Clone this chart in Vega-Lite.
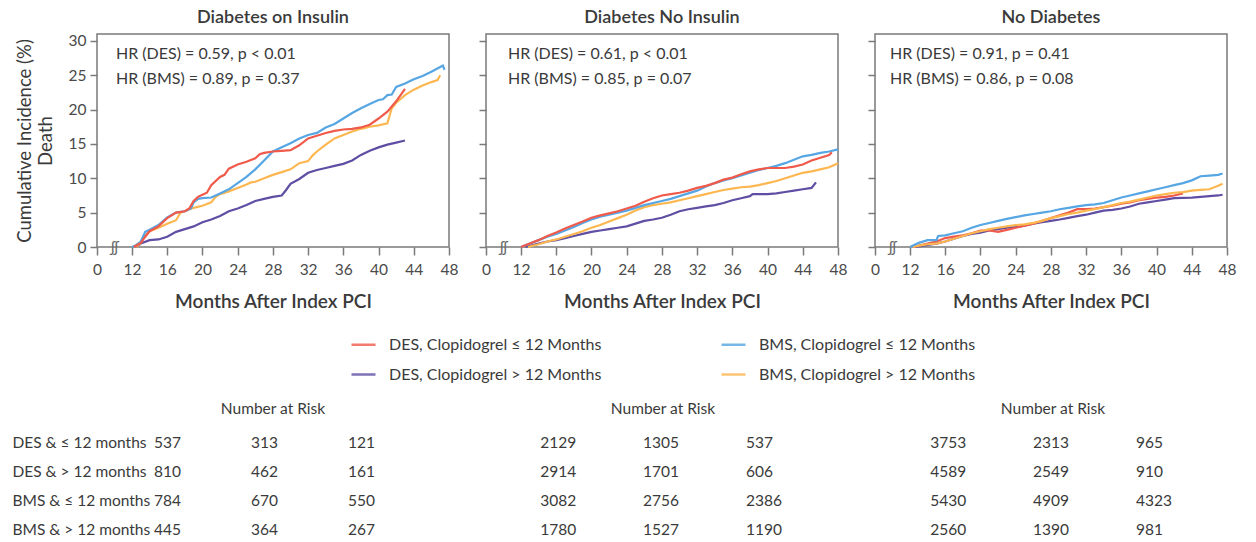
{
"$schema": "https://vega.github.io/schema/vega-lite/v6.json",
"padding": {"left": 12, "top": 8, "right": 4, "bottom": 4},
"background": "white",
"config": {
  "font": "Lato",
  "view": {"stroke": "#7a7a7a", "strokeWidth": 1.5},
  "axis": {"labelFont": "Lato", "labelFontSize": 15.5, "labelColor": "#4a4a4a", "titleFont": "Lato", "titleColor": "#3a3a3a", "domain": false, "tickColor": "#7a7a7a", "tickWidth": 1.5, "grid": false, "labelFlush": false, "labelOverlap": false},
  "title": {"font": "Lato", "fontSize": 18, "fontWeight": 600, "color": "#3a3a3a", "anchor": "middle", "frame": "group"},
  "legend": {"labelFont": "Lato"}
},
"datasets": {
  "curves": [
{"panel":"ins","grp":"DES>","month":12.5,"pct":0},{"panel":"ins","grp":"DES>","month":13,"pct":0.5},{"panel":"ins","grp":"DES>","month":14,"pct":1.0},{"panel":"ins","grp":"DES>","month":15,"pct":1.1},{"panel":"ins","grp":"DES>","month":16,"pct":1.5},{"panel":"ins","grp":"DES>","month":17,"pct":2.2},{"panel":"ins","grp":"DES>","month":18,"pct":2.6},{"panel":"ins","grp":"DES>","month":19,"pct":3.0},{"panel":"ins","grp":"DES>","month":20,"pct":3.6},{"panel":"ins","grp":"DES>","month":21,"pct":4.0},{"panel":"ins","grp":"DES>","month":22,"pct":4.5},{"panel":"ins","grp":"DES>","month":23,"pct":5.2},{"panel":"ins","grp":"DES>","month":24,"pct":5.6},{"panel":"ins","grp":"DES>","month":25,"pct":6.1},{"panel":"ins","grp":"DES>","month":26,"pct":6.7},{"panel":"ins","grp":"DES>","month":27,"pct":7.0},{"panel":"ins","grp":"DES>","month":28,"pct":7.3},{"panel":"ins","grp":"DES>","month":29,"pct":7.5},{"panel":"ins","grp":"DES>","month":29.5,"pct":8.3},{"panel":"ins","grp":"DES>","month":30,"pct":9.2},{"panel":"ins","grp":"DES>","month":31,"pct":9.9},{"panel":"ins","grp":"DES>","month":32,"pct":10.8},{"panel":"ins","grp":"DES>","month":33,"pct":11.2},{"panel":"ins","grp":"DES>","month":34,"pct":11.5},{"panel":"ins","grp":"DES>","month":35,"pct":11.8},{"panel":"ins","grp":"DES>","month":36,"pct":12.1},{"panel":"ins","grp":"DES>","month":37,"pct":12.6},{"panel":"ins","grp":"DES>","month":38,"pct":13.4},{"panel":"ins","grp":"DES>","month":39,"pct":14.0},{"panel":"ins","grp":"DES>","month":40,"pct":14.5},{"panel":"ins","grp":"DES>","month":41,"pct":14.9},{"panel":"ins","grp":"DES>","month":42,"pct":15.2},{"panel":"ins","grp":"DES>","month":43,"pct":15.5},
{"panel":"ins","grp":"BMS>","month":12.5,"pct":0},{"panel":"ins","grp":"BMS>","month":13,"pct":0.6},{"panel":"ins","grp":"BMS>","month":13.5,"pct":1.7},{"panel":"ins","grp":"BMS>","month":14,"pct":2.3},{"panel":"ins","grp":"BMS>","month":15,"pct":2.8},{"panel":"ins","grp":"BMS>","month":16,"pct":3.4},{"panel":"ins","grp":"BMS>","month":17,"pct":3.9},{"panel":"ins","grp":"BMS>","month":17.5,"pct":5.0},{"panel":"ins","grp":"BMS>","month":18,"pct":5.2},{"panel":"ins","grp":"BMS>","month":19,"pct":5.7},{"panel":"ins","grp":"BMS>","month":20,"pct":6.0},{"panel":"ins","grp":"BMS>","month":21,"pct":6.5},{"panel":"ins","grp":"BMS>","month":21.5,"pct":7.3},{"panel":"ins","grp":"BMS>","month":22,"pct":7.7},{"panel":"ins","grp":"BMS>","month":23,"pct":8.1},{"panel":"ins","grp":"BMS>","month":24,"pct":8.6},{"panel":"ins","grp":"BMS>","month":25,"pct":9.1},{"panel":"ins","grp":"BMS>","month":25.5,"pct":9.4},{"panel":"ins","grp":"BMS>","month":26,"pct":9.5},{"panel":"ins","grp":"BMS>","month":27,"pct":10.0},{"panel":"ins","grp":"BMS>","month":28,"pct":10.5},{"panel":"ins","grp":"BMS>","month":29,"pct":10.9},{"panel":"ins","grp":"BMS>","month":30,"pct":11.3},{"panel":"ins","grp":"BMS>","month":31,"pct":12.2},{"panel":"ins","grp":"BMS>","month":32,"pct":12.5},{"panel":"ins","grp":"BMS>","month":32.5,"pct":13.3},{"panel":"ins","grp":"BMS>","month":33,"pct":13.9},{"panel":"ins","grp":"BMS>","month":34,"pct":14.9},{"panel":"ins","grp":"BMS>","month":35,"pct":15.8},{"panel":"ins","grp":"BMS>","month":36,"pct":16.3},{"panel":"ins","grp":"BMS>","month":37,"pct":16.8},{"panel":"ins","grp":"BMS>","month":38,"pct":17.2},{"panel":"ins","grp":"BMS>","month":39,"pct":17.5},{"panel":"ins","grp":"BMS>","month":40,"pct":17.7},{"panel":"ins","grp":"BMS>","month":41,"pct":18.0},{"panel":"ins","grp":"BMS>","month":41.5,"pct":20.2},{"panel":"ins","grp":"BMS>","month":42,"pct":21.0},{"panel":"ins","grp":"BMS>","month":43,"pct":22.1},{"panel":"ins","grp":"BMS>","month":44,"pct":22.9},{"panel":"ins","grp":"BMS>","month":45,"pct":23.5},{"panel":"ins","grp":"BMS>","month":46,"pct":24.0},{"panel":"ins","grp":"BMS>","month":46.7,"pct":24.3},{"panel":"ins","grp":"BMS>","month":47,"pct":25.0},
{"panel":"ins","grp":"BMS≤","month":12,"pct":0},{"panel":"ins","grp":"BMS≤","month":12.5,"pct":0.3},{"panel":"ins","grp":"BMS≤","month":13,"pct":0.8},{"panel":"ins","grp":"BMS≤","month":13.5,"pct":2.2},{"panel":"ins","grp":"BMS≤","month":14,"pct":2.5},{"panel":"ins","grp":"BMS≤","month":15,"pct":3.2},{"panel":"ins","grp":"BMS≤","month":16,"pct":4.3},{"panel":"ins","grp":"BMS≤","month":17,"pct":5.0},{"panel":"ins","grp":"BMS≤","month":18,"pct":5.2},{"panel":"ins","grp":"BMS≤","month":18.7,"pct":5.6},{"panel":"ins","grp":"BMS≤","month":19,"pct":6.5},{"panel":"ins","grp":"BMS≤","month":19.5,"pct":7.0},{"panel":"ins","grp":"BMS≤","month":20,"pct":7.1},{"panel":"ins","grp":"BMS≤","month":21,"pct":7.2},{"panel":"ins","grp":"BMS≤","month":22,"pct":7.8},{"panel":"ins","grp":"BMS≤","month":23,"pct":8.4},{"panel":"ins","grp":"BMS≤","month":24,"pct":9.3},{"panel":"ins","grp":"BMS≤","month":25,"pct":10.2},{"panel":"ins","grp":"BMS≤","month":26,"pct":11.3},{"panel":"ins","grp":"BMS≤","month":27,"pct":12.6},{"panel":"ins","grp":"BMS≤","month":28,"pct":13.9},{"panel":"ins","grp":"BMS≤","month":29,"pct":14.5},{"panel":"ins","grp":"BMS≤","month":30,"pct":15.1},{"panel":"ins","grp":"BMS≤","month":31,"pct":15.8},{"panel":"ins","grp":"BMS≤","month":32,"pct":16.3},{"panel":"ins","grp":"BMS≤","month":33,"pct":16.6},{"panel":"ins","grp":"BMS≤","month":34,"pct":17.4},{"panel":"ins","grp":"BMS≤","month":35,"pct":17.9},{"panel":"ins","grp":"BMS≤","month":36,"pct":18.7},{"panel":"ins","grp":"BMS≤","month":37,"pct":19.5},{"panel":"ins","grp":"BMS≤","month":38,"pct":20.2},{"panel":"ins","grp":"BMS≤","month":39,"pct":20.8},{"panel":"ins","grp":"BMS≤","month":40,"pct":21.4},{"panel":"ins","grp":"BMS≤","month":40.5,"pct":21.5},{"panel":"ins","grp":"BMS≤","month":41,"pct":22.1},{"panel":"ins","grp":"BMS≤","month":41.5,"pct":22.2},{"panel":"ins","grp":"BMS≤","month":42,"pct":23.3},{"panel":"ins","grp":"BMS≤","month":43,"pct":23.8},{"panel":"ins","grp":"BMS≤","month":44,"pct":24.4},{"panel":"ins","grp":"BMS≤","month":45,"pct":24.9},{"panel":"ins","grp":"BMS≤","month":46,"pct":25.5},{"panel":"ins","grp":"BMS≤","month":47,"pct":26.2},{"panel":"ins","grp":"BMS≤","month":47.3,"pct":26.4},{"panel":"ins","grp":"BMS≤","month":47.5,"pct":25.8},
{"panel":"ins","grp":"DES≤","month":12.2,"pct":0},{"panel":"ins","grp":"DES≤","month":13,"pct":0.6},{"panel":"ins","grp":"DES≤","month":13.5,"pct":1.5},{"panel":"ins","grp":"DES≤","month":14,"pct":2.3},{"panel":"ins","grp":"DES≤","month":15,"pct":3.0},{"panel":"ins","grp":"DES≤","month":16,"pct":4.2},{"panel":"ins","grp":"DES≤","month":17,"pct":5.0},{"panel":"ins","grp":"DES≤","month":18,"pct":5.2},{"panel":"ins","grp":"DES≤","month":18.5,"pct":5.6},{"panel":"ins","grp":"DES≤","month":19,"pct":6.7},{"panel":"ins","grp":"DES≤","month":19.5,"pct":7.3},{"panel":"ins","grp":"DES≤","month":20,"pct":7.6},{"panel":"ins","grp":"DES≤","month":20.5,"pct":7.9},{"panel":"ins","grp":"DES≤","month":21,"pct":9.0},{"panel":"ins","grp":"DES≤","month":22,"pct":10.2},{"panel":"ins","grp":"DES≤","month":22.5,"pct":10.5},{"panel":"ins","grp":"DES≤","month":23,"pct":11.4},{"panel":"ins","grp":"DES≤","month":24,"pct":12.0},{"panel":"ins","grp":"DES≤","month":25,"pct":12.4},{"panel":"ins","grp":"DES≤","month":26,"pct":12.9},{"panel":"ins","grp":"DES≤","month":26.5,"pct":13.5},{"panel":"ins","grp":"DES≤","month":27,"pct":13.7},{"panel":"ins","grp":"DES≤","month":28,"pct":13.9},{"panel":"ins","grp":"DES≤","month":29,"pct":14.0},{"panel":"ins","grp":"DES≤","month":30,"pct":14.1},{"panel":"ins","grp":"DES≤","month":31,"pct":14.8},{"panel":"ins","grp":"DES≤","month":32,"pct":15.8},{"panel":"ins","grp":"DES≤","month":33,"pct":16.2},{"panel":"ins","grp":"DES≤","month":34,"pct":16.6},{"panel":"ins","grp":"DES≤","month":35,"pct":16.9},{"panel":"ins","grp":"DES≤","month":36,"pct":17.1},{"panel":"ins","grp":"DES≤","month":37,"pct":17.2},{"panel":"ins","grp":"DES≤","month":38,"pct":17.4},{"panel":"ins","grp":"DES≤","month":39,"pct":17.8},{"panel":"ins","grp":"DES≤","month":40,"pct":18.7},{"panel":"ins","grp":"DES≤","month":41,"pct":19.7},{"panel":"ins","grp":"DES≤","month":42,"pct":21.2},{"panel":"ins","grp":"DES≤","month":43,"pct":23.0},
{"panel":"non","grp":"DES>","month":12.5,"pct":0},{"panel":"non","grp":"DES>","month":14,"pct":0.5},{"panel":"non","grp":"DES>","month":15,"pct":0.8},{"panel":"non","grp":"DES>","month":16,"pct":1.0},{"panel":"non","grp":"DES>","month":17,"pct":1.3},{"panel":"non","grp":"DES>","month":18,"pct":1.6},{"panel":"non","grp":"DES>","month":19,"pct":1.9},{"panel":"non","grp":"DES>","month":20,"pct":2.2},{"panel":"non","grp":"DES>","month":21,"pct":2.4},{"panel":"non","grp":"DES>","month":22,"pct":2.6},{"panel":"non","grp":"DES>","month":23,"pct":2.8},{"panel":"non","grp":"DES>","month":24,"pct":3.0},{"panel":"non","grp":"DES>","month":25,"pct":3.4},{"panel":"non","grp":"DES>","month":26,"pct":3.8},{"panel":"non","grp":"DES>","month":27,"pct":4.0},{"panel":"non","grp":"DES>","month":28,"pct":4.25},{"panel":"non","grp":"DES>","month":29,"pct":4.7},{"panel":"non","grp":"DES>","month":30,"pct":5.2},{"panel":"non","grp":"DES>","month":31,"pct":5.5},{"panel":"non","grp":"DES>","month":32,"pct":5.7},{"panel":"non","grp":"DES>","month":33,"pct":5.9},{"panel":"non","grp":"DES>","month":34,"pct":6.1},{"panel":"non","grp":"DES>","month":35,"pct":6.4},{"panel":"non","grp":"DES>","month":36,"pct":6.8},{"panel":"non","grp":"DES>","month":37,"pct":7.1},{"panel":"non","grp":"DES>","month":38,"pct":7.4},{"panel":"non","grp":"DES>","month":38.3,"pct":7.7},{"panel":"non","grp":"DES>","month":39,"pct":7.7},{"panel":"non","grp":"DES>","month":40,"pct":7.7},{"panel":"non","grp":"DES>","month":41,"pct":7.8},{"panel":"non","grp":"DES>","month":42,"pct":8.0},{"panel":"non","grp":"DES>","month":43,"pct":8.2},{"panel":"non","grp":"DES>","month":44,"pct":8.4},{"panel":"non","grp":"DES>","month":45,"pct":8.6},{"panel":"non","grp":"DES>","month":45.5,"pct":9.4},
{"panel":"non","grp":"BMS>","month":12.8,"pct":0},{"panel":"non","grp":"BMS>","month":14,"pct":0.4},{"panel":"non","grp":"BMS>","month":15,"pct":0.8},{"panel":"non","grp":"BMS>","month":16,"pct":1.1},{"panel":"non","grp":"BMS>","month":17,"pct":1.5},{"panel":"non","grp":"BMS>","month":18,"pct":1.9},{"panel":"non","grp":"BMS>","month":19,"pct":2.3},{"panel":"non","grp":"BMS>","month":20,"pct":2.8},{"panel":"non","grp":"BMS>","month":21,"pct":3.2},{"panel":"non","grp":"BMS>","month":22,"pct":3.7},{"panel":"non","grp":"BMS>","month":23,"pct":4.2},{"panel":"non","grp":"BMS>","month":24,"pct":4.7},{"panel":"non","grp":"BMS>","month":25,"pct":5.3},{"panel":"non","grp":"BMS>","month":26,"pct":5.8},{"panel":"non","grp":"BMS>","month":27,"pct":6.1},{"panel":"non","grp":"BMS>","month":28,"pct":6.3},{"panel":"non","grp":"BMS>","month":29,"pct":6.5},{"panel":"non","grp":"BMS>","month":30,"pct":6.8},{"panel":"non","grp":"BMS>","month":31,"pct":7.1},{"panel":"non","grp":"BMS>","month":32,"pct":7.4},{"panel":"non","grp":"BMS>","month":33,"pct":7.7},{"panel":"non","grp":"BMS>","month":34,"pct":8.0},{"panel":"non","grp":"BMS>","month":35,"pct":8.3},{"panel":"non","grp":"BMS>","month":36,"pct":8.5},{"panel":"non","grp":"BMS>","month":37,"pct":8.7},{"panel":"non","grp":"BMS>","month":38,"pct":8.8},{"panel":"non","grp":"BMS>","month":39,"pct":9.0},{"panel":"non","grp":"BMS>","month":40,"pct":9.3},{"panel":"non","grp":"BMS>","month":41,"pct":9.6},{"panel":"non","grp":"BMS>","month":42,"pct":10.0},{"panel":"non","grp":"BMS>","month":43,"pct":10.4},{"panel":"non","grp":"BMS>","month":44,"pct":10.8},{"panel":"non","grp":"BMS>","month":45,"pct":11.0},{"panel":"non","grp":"BMS>","month":46,"pct":11.3},{"panel":"non","grp":"BMS>","month":47,"pct":11.6},{"panel":"non","grp":"BMS>","month":48,"pct":12.2},
{"panel":"non","grp":"BMS≤","month":12,"pct":0},{"panel":"non","grp":"BMS≤","month":13,"pct":0.5},{"panel":"non","grp":"BMS≤","month":14,"pct":1.0},{"panel":"non","grp":"BMS≤","month":15,"pct":1.5},{"panel":"non","grp":"BMS≤","month":16,"pct":1.9},{"panel":"non","grp":"BMS≤","month":17,"pct":2.4},{"panel":"non","grp":"BMS≤","month":18,"pct":2.9},{"panel":"non","grp":"BMS≤","month":19,"pct":3.5},{"panel":"non","grp":"BMS≤","month":20,"pct":4.0},{"panel":"non","grp":"BMS≤","month":21,"pct":4.4},{"panel":"non","grp":"BMS≤","month":22,"pct":4.7},{"panel":"non","grp":"BMS≤","month":23,"pct":5.0},{"panel":"non","grp":"BMS≤","month":24,"pct":5.3},{"panel":"non","grp":"BMS≤","month":25,"pct":5.7},{"panel":"non","grp":"BMS≤","month":26,"pct":6.1},{"panel":"non","grp":"BMS≤","month":27,"pct":6.4},{"panel":"non","grp":"BMS≤","month":28,"pct":6.7},{"panel":"non","grp":"BMS≤","month":29,"pct":7.0},{"panel":"non","grp":"BMS≤","month":30,"pct":7.4},{"panel":"non","grp":"BMS≤","month":31,"pct":7.8},{"panel":"non","grp":"BMS≤","month":32,"pct":8.2},{"panel":"non","grp":"BMS≤","month":33,"pct":8.8},{"panel":"non","grp":"BMS≤","month":34,"pct":9.3},{"panel":"non","grp":"BMS≤","month":35,"pct":9.7},{"panel":"non","grp":"BMS≤","month":36,"pct":10.0},{"panel":"non","grp":"BMS≤","month":37,"pct":10.4},{"panel":"non","grp":"BMS≤","month":38,"pct":10.8},{"panel":"non","grp":"BMS≤","month":39,"pct":11.2},{"panel":"non","grp":"BMS≤","month":40,"pct":11.5},{"panel":"non","grp":"BMS≤","month":41,"pct":11.8},{"panel":"non","grp":"BMS≤","month":42,"pct":12.2},{"panel":"non","grp":"BMS≤","month":43,"pct":12.7},{"panel":"non","grp":"BMS≤","month":44,"pct":13.2},{"panel":"non","grp":"BMS≤","month":45,"pct":13.4},{"panel":"non","grp":"BMS≤","month":46,"pct":13.7},{"panel":"non","grp":"BMS≤","month":47,"pct":13.9},{"panel":"non","grp":"BMS≤","month":48,"pct":14.2},
{"panel":"non","grp":"DES≤","month":12,"pct":0},{"panel":"non","grp":"DES≤","month":13,"pct":0.5},{"panel":"non","grp":"DES≤","month":14,"pct":1.0},{"panel":"non","grp":"DES≤","month":15,"pct":1.6},{"panel":"non","grp":"DES≤","month":16,"pct":2.1},{"panel":"non","grp":"DES≤","month":17,"pct":2.7},{"panel":"non","grp":"DES≤","month":18,"pct":3.2},{"panel":"non","grp":"DES≤","month":19,"pct":3.7},{"panel":"non","grp":"DES≤","month":20,"pct":4.25},{"panel":"non","grp":"DES≤","month":21,"pct":4.6},{"panel":"non","grp":"DES≤","month":22,"pct":4.9},{"panel":"non","grp":"DES≤","month":23,"pct":5.2},{"panel":"non","grp":"DES≤","month":24,"pct":5.6},{"panel":"non","grp":"DES≤","month":25,"pct":6.0},{"panel":"non","grp":"DES≤","month":26,"pct":6.6},{"panel":"non","grp":"DES≤","month":27,"pct":7.1},{"panel":"non","grp":"DES≤","month":28,"pct":7.5},{"panel":"non","grp":"DES≤","month":29,"pct":7.7},{"panel":"non","grp":"DES≤","month":30,"pct":7.9},{"panel":"non","grp":"DES≤","month":31,"pct":8.2},{"panel":"non","grp":"DES≤","month":32,"pct":8.6},{"panel":"non","grp":"DES≤","month":33,"pct":8.9},{"panel":"non","grp":"DES≤","month":34,"pct":9.3},{"panel":"non","grp":"DES≤","month":35,"pct":9.8},{"panel":"non","grp":"DES≤","month":36,"pct":10.1},{"panel":"non","grp":"DES≤","month":37,"pct":10.6},{"panel":"non","grp":"DES≤","month":38,"pct":11.0},{"panel":"non","grp":"DES≤","month":39,"pct":11.3},{"panel":"non","grp":"DES≤","month":40,"pct":11.5},{"panel":"non","grp":"DES≤","month":41,"pct":11.5},{"panel":"non","grp":"DES≤","month":42,"pct":11.5},{"panel":"non","grp":"DES≤","month":43,"pct":11.7},{"panel":"non","grp":"DES≤","month":44,"pct":12.0},{"panel":"non","grp":"DES≤","month":45,"pct":12.6},{"panel":"non","grp":"DES≤","month":46,"pct":13.0},{"panel":"non","grp":"DES≤","month":47,"pct":13.4},{"panel":"non","grp":"DES≤","month":47.3,"pct":13.8},
{"panel":"nod","grp":"DES>","month":12.5,"pct":0},{"panel":"nod","grp":"DES>","month":13,"pct":0.1},{"panel":"nod","grp":"DES>","month":14,"pct":0.3},{"panel":"nod","grp":"DES>","month":15,"pct":0.5},{"panel":"nod","grp":"DES>","month":16,"pct":0.8},{"panel":"nod","grp":"DES>","month":17,"pct":1.2},{"panel":"nod","grp":"DES>","month":18,"pct":1.6},{"panel":"nod","grp":"DES>","month":19,"pct":1.9},{"panel":"nod","grp":"DES>","month":20,"pct":2.1},{"panel":"nod","grp":"DES>","month":21,"pct":2.4},{"panel":"nod","grp":"DES>","month":22,"pct":2.6},{"panel":"nod","grp":"DES>","month":23,"pct":2.8},{"panel":"nod","grp":"DES>","month":24,"pct":2.9},{"panel":"nod","grp":"DES>","month":25,"pct":3.1},{"panel":"nod","grp":"DES>","month":26,"pct":3.4},{"panel":"nod","grp":"DES>","month":27,"pct":3.6},{"panel":"nod","grp":"DES>","month":28,"pct":3.8},{"panel":"nod","grp":"DES>","month":29,"pct":4.0},{"panel":"nod","grp":"DES>","month":30,"pct":4.25},{"panel":"nod","grp":"DES>","month":31,"pct":4.5},{"panel":"nod","grp":"DES>","month":32,"pct":4.7},{"panel":"nod","grp":"DES>","month":33,"pct":5.0},{"panel":"nod","grp":"DES>","month":34,"pct":5.3},{"panel":"nod","grp":"DES>","month":35,"pct":5.4},{"panel":"nod","grp":"DES>","month":36,"pct":5.6},{"panel":"nod","grp":"DES>","month":37,"pct":5.9},{"panel":"nod","grp":"DES>","month":38,"pct":6.3},{"panel":"nod","grp":"DES>","month":39,"pct":6.5},{"panel":"nod","grp":"DES>","month":40,"pct":6.7},{"panel":"nod","grp":"DES>","month":41,"pct":6.9},{"panel":"nod","grp":"DES>","month":42,"pct":7.1},{"panel":"nod","grp":"DES>","month":43,"pct":7.15},{"panel":"nod","grp":"DES>","month":44,"pct":7.2},{"panel":"nod","grp":"DES>","month":45,"pct":7.3},{"panel":"nod","grp":"DES>","month":46,"pct":7.4},{"panel":"nod","grp":"DES>","month":47,"pct":7.5},{"panel":"nod","grp":"DES>","month":47.5,"pct":7.6},
{"panel":"nod","grp":"DES≤","month":12.3,"pct":0},{"panel":"nod","grp":"DES≤","month":13,"pct":0.2},{"panel":"nod","grp":"DES≤","month":14,"pct":0.5},{"panel":"nod","grp":"DES≤","month":15,"pct":0.8},{"panel":"nod","grp":"DES≤","month":16,"pct":1.3},{"panel":"nod","grp":"DES≤","month":17,"pct":1.5},{"panel":"nod","grp":"DES≤","month":18,"pct":1.7},{"panel":"nod","grp":"DES≤","month":19,"pct":2.0},{"panel":"nod","grp":"DES≤","month":20,"pct":2.4},{"panel":"nod","grp":"DES≤","month":21,"pct":2.4},{"panel":"nod","grp":"DES≤","month":22,"pct":2.2},{"panel":"nod","grp":"DES≤","month":23,"pct":2.5},{"panel":"nod","grp":"DES≤","month":24,"pct":2.8},{"panel":"nod","grp":"DES≤","month":25,"pct":3.1},{"panel":"nod","grp":"DES≤","month":26,"pct":3.4},{"panel":"nod","grp":"DES≤","month":27,"pct":3.8},{"panel":"nod","grp":"DES≤","month":28,"pct":4.2},{"panel":"nod","grp":"DES≤","month":29,"pct":4.6},{"panel":"nod","grp":"DES≤","month":30,"pct":5.0},{"panel":"nod","grp":"DES≤","month":31,"pct":5.5},{"panel":"nod","grp":"DES≤","month":32,"pct":5.5},{"panel":"nod","grp":"DES≤","month":33,"pct":5.6},{"panel":"nod","grp":"DES≤","month":34,"pct":5.8},{"panel":"nod","grp":"DES≤","month":35,"pct":6.0},{"panel":"nod","grp":"DES≤","month":36,"pct":6.3},{"panel":"nod","grp":"DES≤","month":37,"pct":6.5},{"panel":"nod","grp":"DES≤","month":38,"pct":6.8},{"panel":"nod","grp":"DES≤","month":39,"pct":7.0},{"panel":"nod","grp":"DES≤","month":40,"pct":7.2},{"panel":"nod","grp":"DES≤","month":41,"pct":7.3},{"panel":"nod","grp":"DES≤","month":42,"pct":7.5},{"panel":"nod","grp":"DES≤","month":43,"pct":7.8},
{"panel":"nod","grp":"BMS>","month":12.3,"pct":0},{"panel":"nod","grp":"BMS>","month":13,"pct":0.2},{"panel":"nod","grp":"BMS>","month":14,"pct":0.4},{"panel":"nod","grp":"BMS>","month":15,"pct":0.5},{"panel":"nod","grp":"BMS>","month":16,"pct":0.8},{"panel":"nod","grp":"BMS>","month":17,"pct":1.2},{"panel":"nod","grp":"BMS>","month":18,"pct":1.6},{"panel":"nod","grp":"BMS>","month":19,"pct":2.0},{"panel":"nod","grp":"BMS>","month":20,"pct":2.3},{"panel":"nod","grp":"BMS>","month":21,"pct":2.6},{"panel":"nod","grp":"BMS>","month":22,"pct":2.8},{"panel":"nod","grp":"BMS>","month":23,"pct":3.0},{"panel":"nod","grp":"BMS>","month":24,"pct":3.2},{"panel":"nod","grp":"BMS>","month":25,"pct":3.3},{"panel":"nod","grp":"BMS>","month":26,"pct":3.5},{"panel":"nod","grp":"BMS>","month":27,"pct":3.8},{"panel":"nod","grp":"BMS>","month":28,"pct":4.2},{"panel":"nod","grp":"BMS>","month":29,"pct":4.5},{"panel":"nod","grp":"BMS>","month":30,"pct":4.8},{"panel":"nod","grp":"BMS>","month":31,"pct":5.0},{"panel":"nod","grp":"BMS>","month":32,"pct":5.3},{"panel":"nod","grp":"BMS>","month":33,"pct":5.5},{"panel":"nod","grp":"BMS>","month":34,"pct":5.8},{"panel":"nod","grp":"BMS>","month":35,"pct":6.1},{"panel":"nod","grp":"BMS>","month":36,"pct":6.4},{"panel":"nod","grp":"BMS>","month":37,"pct":6.6},{"panel":"nod","grp":"BMS>","month":38,"pct":6.9},{"panel":"nod","grp":"BMS>","month":39,"pct":7.2},{"panel":"nod","grp":"BMS>","month":40,"pct":7.5},{"panel":"nod","grp":"BMS>","month":41,"pct":7.7},{"panel":"nod","grp":"BMS>","month":42,"pct":7.9},{"panel":"nod","grp":"BMS>","month":43,"pct":8.0},{"panel":"nod","grp":"BMS>","month":44,"pct":8.2},{"panel":"nod","grp":"BMS>","month":45,"pct":8.3},{"panel":"nod","grp":"BMS>","month":46,"pct":8.4},{"panel":"nod","grp":"BMS>","month":47,"pct":8.9},{"panel":"nod","grp":"BMS>","month":47.5,"pct":9.2},
{"panel":"nod","grp":"BMS≤","month":12,"pct":0},{"panel":"nod","grp":"BMS≤","month":13,"pct":0.6},{"panel":"nod","grp":"BMS≤","month":14,"pct":1.0},{"panel":"nod","grp":"BMS≤","month":15,"pct":1.0},{"panel":"nod","grp":"BMS≤","month":15.2,"pct":1.6},{"panel":"nod","grp":"BMS≤","month":16,"pct":1.7},{"panel":"nod","grp":"BMS≤","month":17,"pct":2.0},{"panel":"nod","grp":"BMS≤","month":18,"pct":2.3},{"panel":"nod","grp":"BMS≤","month":19,"pct":2.8},{"panel":"nod","grp":"BMS≤","month":20,"pct":3.2},{"panel":"nod","grp":"BMS≤","month":21,"pct":3.5},{"panel":"nod","grp":"BMS≤","month":22,"pct":3.8},{"panel":"nod","grp":"BMS≤","month":23,"pct":4.1},{"panel":"nod","grp":"BMS≤","month":24,"pct":4.35},{"panel":"nod","grp":"BMS≤","month":25,"pct":4.6},{"panel":"nod","grp":"BMS≤","month":26,"pct":4.8},{"panel":"nod","grp":"BMS≤","month":27,"pct":5.0},{"panel":"nod","grp":"BMS≤","month":28,"pct":5.2},{"panel":"nod","grp":"BMS≤","month":29,"pct":5.5},{"panel":"nod","grp":"BMS≤","month":30,"pct":5.7},{"panel":"nod","grp":"BMS≤","month":31,"pct":5.9},{"panel":"nod","grp":"BMS≤","month":32,"pct":6.1},{"panel":"nod","grp":"BMS≤","month":33,"pct":6.2},{"panel":"nod","grp":"BMS≤","month":34,"pct":6.4},{"panel":"nod","grp":"BMS≤","month":35,"pct":6.8},{"panel":"nod","grp":"BMS≤","month":36,"pct":7.2},{"panel":"nod","grp":"BMS≤","month":37,"pct":7.5},{"panel":"nod","grp":"BMS≤","month":38,"pct":7.8},{"panel":"nod","grp":"BMS≤","month":39,"pct":8.1},{"panel":"nod","grp":"BMS≤","month":40,"pct":8.4},{"panel":"nod","grp":"BMS≤","month":41,"pct":8.7},{"panel":"nod","grp":"BMS≤","month":42,"pct":9.0},{"panel":"nod","grp":"BMS≤","month":43,"pct":9.3},{"panel":"nod","grp":"BMS≤","month":44,"pct":9.7},{"panel":"nod","grp":"BMS≤","month":45,"pct":10.3},{"panel":"nod","grp":"BMS≤","month":46,"pct":10.4},{"panel":"nod","grp":"BMS≤","month":47,"pct":10.5},{"panel":"nod","grp":"BMS≤","month":47.5,"pct":10.7}
  ],
  "hr": [
    {"panel":"ins","text":"HR (DES) = 0.59, p < 0.01\nHR (BMS) = 0.89, p = 0.37"},
    {"panel":"non","text":"HR (DES) = 0.61, p < 0.01\nHR (BMS) = 0.85, p = 0.07"},
    {"panel":"nod","text":"HR (DES) = 0.91, p = 0.41\nHR (BMS) = 0.86, p = 0.08"}
  ],
  "risk": [
    {"panel":"ins","grp":"DES & ≤ 12 months","month":12,"n":537},{"panel":"ins","grp":"DES & ≤ 12 months","month":24,"n":313},{"panel":"ins","grp":"DES & ≤ 12 months","month":36,"n":121},
    {"panel":"ins","grp":"DES & > 12 months","month":12,"n":810},{"panel":"ins","grp":"DES & > 12 months","month":24,"n":462},{"panel":"ins","grp":"DES & > 12 months","month":36,"n":161},
    {"panel":"ins","grp":"BMS & ≤ 12 months","month":12,"n":784},{"panel":"ins","grp":"BMS & ≤ 12 months","month":24,"n":670},{"panel":"ins","grp":"BMS & ≤ 12 months","month":36,"n":550},
    {"panel":"ins","grp":"BMS & > 12 months","month":12,"n":445},{"panel":"ins","grp":"BMS & > 12 months","month":24,"n":364},{"panel":"ins","grp":"BMS & > 12 months","month":36,"n":267},
    {"panel":"non","grp":"DES & ≤ 12 months","month":12,"n":2129},{"panel":"non","grp":"DES & ≤ 12 months","month":24,"n":1305},{"panel":"non","grp":"DES & ≤ 12 months","month":36,"n":537},
    {"panel":"non","grp":"DES & > 12 months","month":12,"n":2914},{"panel":"non","grp":"DES & > 12 months","month":24,"n":1701},{"panel":"non","grp":"DES & > 12 months","month":36,"n":606},
    {"panel":"non","grp":"BMS & ≤ 12 months","month":12,"n":3082},{"panel":"non","grp":"BMS & ≤ 12 months","month":24,"n":2756},{"panel":"non","grp":"BMS & ≤ 12 months","month":36,"n":2386},
    {"panel":"non","grp":"BMS & > 12 months","month":12,"n":1780},{"panel":"non","grp":"BMS & > 12 months","month":24,"n":1527},{"panel":"non","grp":"BMS & > 12 months","month":36,"n":1190},
    {"panel":"nod","grp":"DES & ≤ 12 months","month":12,"n":3753},{"panel":"nod","grp":"DES & ≤ 12 months","month":24,"n":2313},{"panel":"nod","grp":"DES & ≤ 12 months","month":36,"n":965},
    {"panel":"nod","grp":"DES & > 12 months","month":12,"n":4589},{"panel":"nod","grp":"DES & > 12 months","month":24,"n":2549},{"panel":"nod","grp":"DES & > 12 months","month":36,"n":910},
    {"panel":"nod","grp":"BMS & ≤ 12 months","month":12,"n":5430},{"panel":"nod","grp":"BMS & ≤ 12 months","month":24,"n":4909},{"panel":"nod","grp":"BMS & ≤ 12 months","month":36,"n":4323},
    {"panel":"nod","grp":"BMS & > 12 months","month":12,"n":2560},{"panel":"nod","grp":"BMS & > 12 months","month":24,"n":1390},{"panel":"nod","grp":"BMS & > 12 months","month":36,"n":981}
  ]
},
"spacing": 88,
"vconcat": [
 {"spacing": 18, "hconcat": [
  {"width": 352, "height": 213, "title": {"text": "Diabetes on Insulin", "offset": 7},
   "resolve": {"axis": {"x": "independent", "y": "independent"}},
   "layer": [
    {"data": {"name": "curves"}, "transform": [{"filter": "datum.panel == 'ins'"}],
     "mark": {"type": "line", "strokeWidth": 2.2},
     "encoding": {
      "x": {"field": "month", "type": "quantitative", "scale": {"domain": [0, 12, 48], "range": [0, 35, 352], "nice": false, "zero": false}, "axis": {"values": [0,12,16,20,24,28,32,36,40,44,48], "labelOverlap": false, "tickSize": 8, "labelPadding": 7, "title": "Months After Index PCI", "titleFontSize": 19, "titleFontWeight": 600, "titlePadding": 15}},
      "y": {"field": "pct", "type": "quantitative", "scale": {"domain": [0, 31], "nice": false}, "axis": {"values": [0,5,10,15,20,25,30], "labelOverlap": false, "tickSize": 7, "labelPadding": 4, "title": ["Cumulative Incidence (%)", "Death"], "titleFontSize": 18.5, "titleFontWeight": "normal", "titleLineHeight": 21, "titlePadding": 13}},
      "color": {"field": "grp", "type": "nominal", "scale": {"domain": ["DES≤", "DES>", "BMS≤", "BMS>"], "range": ["#f05a4b", "#5f4ea3", "#56a6e3", "#fdb750"]},
        "legend": {"orient": "none", "legendX": 253, "legendY": 297, "columns": 2, "title": null, "padding": 0, "symbolType": "stroke", "symbolSize": 576, "symbolStrokeWidth": 2.5, "symbolOpacity": 0.8, "labelFontSize": 16, "labelColor": "#3a3a3a", "labelOffset": 12, "columnPadding": 114, "rowPadding": 8, "labelLimit": 300,
          "labelExpr": "datum.label == 'DES≤' ? 'DES, Clopidogrel ≤ 12 Months' : datum.label == 'DES>' ? 'DES, Clopidogrel > 12 Months' : datum.label == 'BMS≤' ? 'BMS, Clopidogrel ≤ 12 Months' : 'BMS, Clopidogrel > 12 Months'"}}
     }},
    {"data": {"name": "hr"}, "transform": [{"filter": "datum.panel == 'ins'"}],
     "mark": {"type": "text", "align": "left", "baseline": "top", "lineBreak": "\n", "lineHeight": 25, "dx": 19, "dy": 12, "fontSize": 16, "color": "#3a3a3a"},
     "encoding": {"x": {"datum": 0, "type": "quantitative", "axis": null}, "y": {"datum": 31, "type": "quantitative", "axis": null}, "text": {"field": "text"}}},
    {"data": {"values": [{}]},
     "mark": {"type": "text", "text": "ʃʃ", "fontSize": 15, "color": "#666"},
     "encoding": {"x": {"datum": 6, "type": "quantitative", "axis": null}, "y": {"datum": 0, "type": "quantitative", "axis": null}}}
   ]},
  {"width": 352, "height": 213, "title": {"text": "Diabetes No Insulin", "offset": 7},
   "resolve": {"axis": {"x": "independent", "y": "independent"}},
   "layer": [
    {"data": {"name": "curves"}, "transform": [{"filter": "datum.panel == 'non'"}],
     "mark": {"type": "line", "strokeWidth": 2.2},
     "encoding": {
      "x": {"field": "month", "type": "quantitative", "scale": {"domain": [0, 12, 48], "range": [0, 35, 352], "nice": false, "zero": false}, "axis": {"values": [0,12,16,20,24,28,32,36,40,44,48], "labelOverlap": false, "tickSize": 8, "labelPadding": 7, "title": "Months After Index PCI", "titleFontSize": 19, "titleFontWeight": 600, "titlePadding": 15}},
      "y": {"field": "pct", "type": "quantitative", "scale": {"domain": [0, 31], "nice": false}, "axis": {"values": [0,5,10,15,20,25,30], "tickSize": 7, "labels": false, "title": null}},
      "color": {"field": "grp", "type": "nominal", "scale": {"domain": ["DES≤", "DES>", "BMS≤", "BMS>"], "range": ["#f05a4b", "#5f4ea3", "#56a6e3", "#fdb750"]},
        "legend": {"orient": "none", "legendX": 253, "legendY": 297, "columns": 2, "title": null, "padding": 0, "symbolType": "stroke", "symbolSize": 576, "symbolStrokeWidth": 2.5, "symbolOpacity": 0.8, "labelFontSize": 16, "labelColor": "#3a3a3a", "labelOffset": 12, "columnPadding": 114, "rowPadding": 8, "labelLimit": 300,
          "labelExpr": "datum.label == 'DES≤' ? 'DES, Clopidogrel ≤ 12 Months' : datum.label == 'DES>' ? 'DES, Clopidogrel > 12 Months' : datum.label == 'BMS≤' ? 'BMS, Clopidogrel ≤ 12 Months' : 'BMS, Clopidogrel > 12 Months'"}}
     }},
    {"data": {"name": "hr"}, "transform": [{"filter": "datum.panel == 'non'"}],
     "mark": {"type": "text", "align": "left", "baseline": "top", "lineBreak": "\n", "lineHeight": 25, "dx": 22, "dy": 12, "fontSize": 16, "color": "#3a3a3a"},
     "encoding": {"x": {"datum": 0, "type": "quantitative", "axis": null}, "y": {"datum": 31, "type": "quantitative", "axis": null}, "text": {"field": "text"}}},
    {"data": {"values": [{}]},
     "mark": {"type": "text", "text": "ʃʃ", "fontSize": 15, "color": "#666"},
     "encoding": {"x": {"datum": 6, "type": "quantitative", "axis": null}, "y": {"datum": 0, "type": "quantitative", "axis": null}}}
   ]},
  {"width": 352, "height": 213, "title": {"text": "No Diabetes", "offset": 7},
   "resolve": {"axis": {"x": "independent", "y": "independent"}},
   "layer": [
    {"data": {"name": "curves"}, "transform": [{"filter": "datum.panel == 'nod'"}],
     "mark": {"type": "line", "strokeWidth": 2.2},
     "encoding": {
      "x": {"field": "month", "type": "quantitative", "scale": {"domain": [0, 12, 48], "range": [0, 35, 352], "nice": false, "zero": false}, "axis": {"values": [0,12,16,20,24,28,32,36,40,44,48], "labelOverlap": false, "tickSize": 8, "labelPadding": 7, "title": "Months After Index PCI", "titleFontSize": 19, "titleFontWeight": 600, "titlePadding": 15}},
      "y": {"field": "pct", "type": "quantitative", "scale": {"domain": [0, 31], "nice": false}, "axis": {"values": [0,5,10,15,20,25,30], "tickSize": 7, "labels": false, "title": null}},
      "color": {"field": "grp", "type": "nominal", "scale": {"domain": ["DES≤", "DES>", "BMS≤", "BMS>"], "range": ["#f05a4b", "#5f4ea3", "#56a6e3", "#fdb750"]},
        "legend": {"orient": "none", "legendX": 253, "legendY": 297, "columns": 2, "title": null, "padding": 0, "symbolType": "stroke", "symbolSize": 576, "symbolStrokeWidth": 2.5, "symbolOpacity": 0.8, "labelFontSize": 16, "labelColor": "#3a3a3a", "labelOffset": 12, "columnPadding": 114, "rowPadding": 8, "labelLimit": 300,
          "labelExpr": "datum.label == 'DES≤' ? 'DES, Clopidogrel ≤ 12 Months' : datum.label == 'DES>' ? 'DES, Clopidogrel > 12 Months' : datum.label == 'BMS≤' ? 'BMS, Clopidogrel ≤ 12 Months' : 'BMS, Clopidogrel > 12 Months'"}}
     }},
    {"data": {"name": "hr"}, "transform": [{"filter": "datum.panel == 'nod'"}],
     "mark": {"type": "text", "align": "left", "baseline": "top", "lineBreak": "\n", "lineHeight": 25, "dx": 15, "dy": 12, "fontSize": 16, "color": "#3a3a3a"},
     "encoding": {"x": {"datum": 0, "type": "quantitative", "axis": null}, "y": {"datum": 31, "type": "quantitative", "axis": null}, "text": {"field": "text"}}},
    {"data": {"values": [{}]},
     "mark": {"type": "text", "text": "ʃʃ", "fontSize": 15, "color": "#666"},
     "encoding": {"x": {"datum": 6, "type": "quantitative", "axis": null}, "y": {"datum": 0, "type": "quantitative", "axis": null}}}
   ]}
 ]},
 {"spacing": 38, "hconcat": [
  {"width": 352, "height": 116, "view": {"stroke": null},
   "title": {"text": "Number at Risk", "fontSize": 15.5, "fontWeight": "normal", "offset": 11},
   "data": {"name": "risk"}, "transform": [{"filter": "datum.panel == 'ins'"}],
   "mark": {"type": "text", "align": "left", "fontSize": 15.5, "color": "#3a3a3a"},
   "encoding": {
    "x": {"field": "month", "type": "quantitative", "scale": {"domain": [4.95, 48.5]}, "axis": null},
    "y": {"field": "grp", "type": "nominal", "sort": ["DES & ≤ 12 months", "DES & > 12 months", "BMS & ≤ 12 months", "BMS & > 12 months"], "scale": {"paddingInner": 0, "paddingOuter": 0}, "axis": {"title": null, "domain": false, "ticks": false, "labelAlign": "left", "labelPadding": 85, "labelFontSize": 15.5, "labelColor": "#3a3a3a", "labelLimit": 300}},
    "text": {"field": "n"}
   }},
  {"width": 352, "height": 116, "view": {"stroke": null},
   "title": {"text": "Number at Risk", "fontSize": 15.5, "fontWeight": "normal", "offset": 11},
   "data": {"name": "risk"}, "transform": [{"filter": "datum.panel == 'non'"}],
   "mark": {"type": "text", "align": "left", "fontSize": 15.5, "color": "#3a3a3a"},
   "encoding": {
    "x": {"field": "month", "type": "quantitative", "scale": {"domain": [5.8, 46.85]}, "axis": null},
    "y": {"field": "grp", "type": "nominal", "sort": ["DES & ≤ 12 months", "DES & > 12 months", "BMS & ≤ 12 months", "BMS & > 12 months"], "scale": {"paddingInner": 0, "paddingOuter": 0}, "axis": null},
    "text": {"field": "n"}
   }},
  {"width": 352, "height": 116, "view": {"stroke": null},
   "title": {"text": "Number at Risk", "fontSize": 15.5, "fontWeight": "normal", "offset": 11},
   "data": {"name": "risk"}, "transform": [{"filter": "datum.panel == 'nod'"}],
   "mark": {"type": "text", "align": "left", "fontSize": 15.5, "color": "#3a3a3a"},
   "encoding": {
    "x": {"field": "month", "type": "quantitative", "scale": {"domain": [5.8, 46.85]}, "axis": null},
    "y": {"field": "grp", "type": "nominal", "sort": ["DES & ≤ 12 months", "DES & > 12 months", "BMS & ≤ 12 months", "BMS & > 12 months"], "scale": {"paddingInner": 0, "paddingOuter": 0}, "axis": null},
    "text": {"field": "n"}
   }}
 ]}
]
}
